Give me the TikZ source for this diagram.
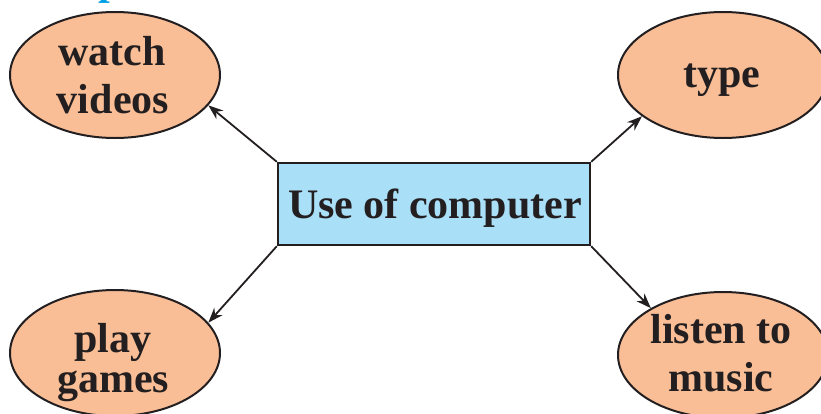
\documentclass[tikz,border=0pt]{standalone}
\usepackage{fontspec}
\setmainfont{Liberation Serif}
\usetikzlibrary{shapes.geometric,arrows.meta}
\definecolor{peach}{RGB}{249,190,150}
\definecolor{skyfill}{RGB}{170,223,248}
\definecolor{ink}{RGB}{35,31,32}
\definecolor{headblue}{RGB}{0,160,228}
\begin{document}
\begin{tikzpicture}[x=1pt,y=-1pt,
  bubble/.style={ellipse,draw=ink,line width=2pt,fill=peach,minimum width=210pt,minimum height=126pt,inner sep=0pt},
  word/.style={anchor=base,inner sep=0pt,text=ink,font=\bfseries\fontsize{42}{47}\selectfont},
  centerbox/.style={rectangle,draw=ink,line width=2.4pt,fill=skyfill,minimum width=312pt,minimum height=82pt,inner sep=0pt},
  link/.style={draw=ink,line width=1.8pt,-{Stealth[length=15pt,width=11pt]}}]
\useasboundingbox (0,0) rectangle (821,413);
\begin{scope}
\clip (0,0) rectangle (821,413);
\node[anchor=base west,inner sep=0pt,text=headblue,font=\bfseries\fontsize{42}{47}\selectfont] (head) at (98,-6) {p};
\node[bubble] (watch) at (115,75) {};
\node[bubble] (type) at (723,75) {};
\node[bubble] (play) at (115,353) {};
\node[bubble] (listen) at (723,355) {};
\node[word] (watch1) at (112,65) {watch};
\node[word] (watch2) at (113,113) {videos};
\node[word] (type1) at (722,87) {type};
\node[word] (play1) at (113,352) {play};
\node[word] (play2) at (113,392) {games};
\node[word] (listen1) at (721,343) {listen to};
\node[word] (listen2) at (721,391) {music};
\end{scope}
\node[centerbox] (use) at (434,204) {};
\node[word] (usetxt) at (435,218) {Use of computer};
\draw[link] (use.north west) -- (watch.-18);
\draw[link] (use.north east) -- (type.207);
\draw[link] (use.south west) -- (play.18);
\draw[link] (use.south east) -- (listen.147);
\end{tikzpicture}
\end{document}
